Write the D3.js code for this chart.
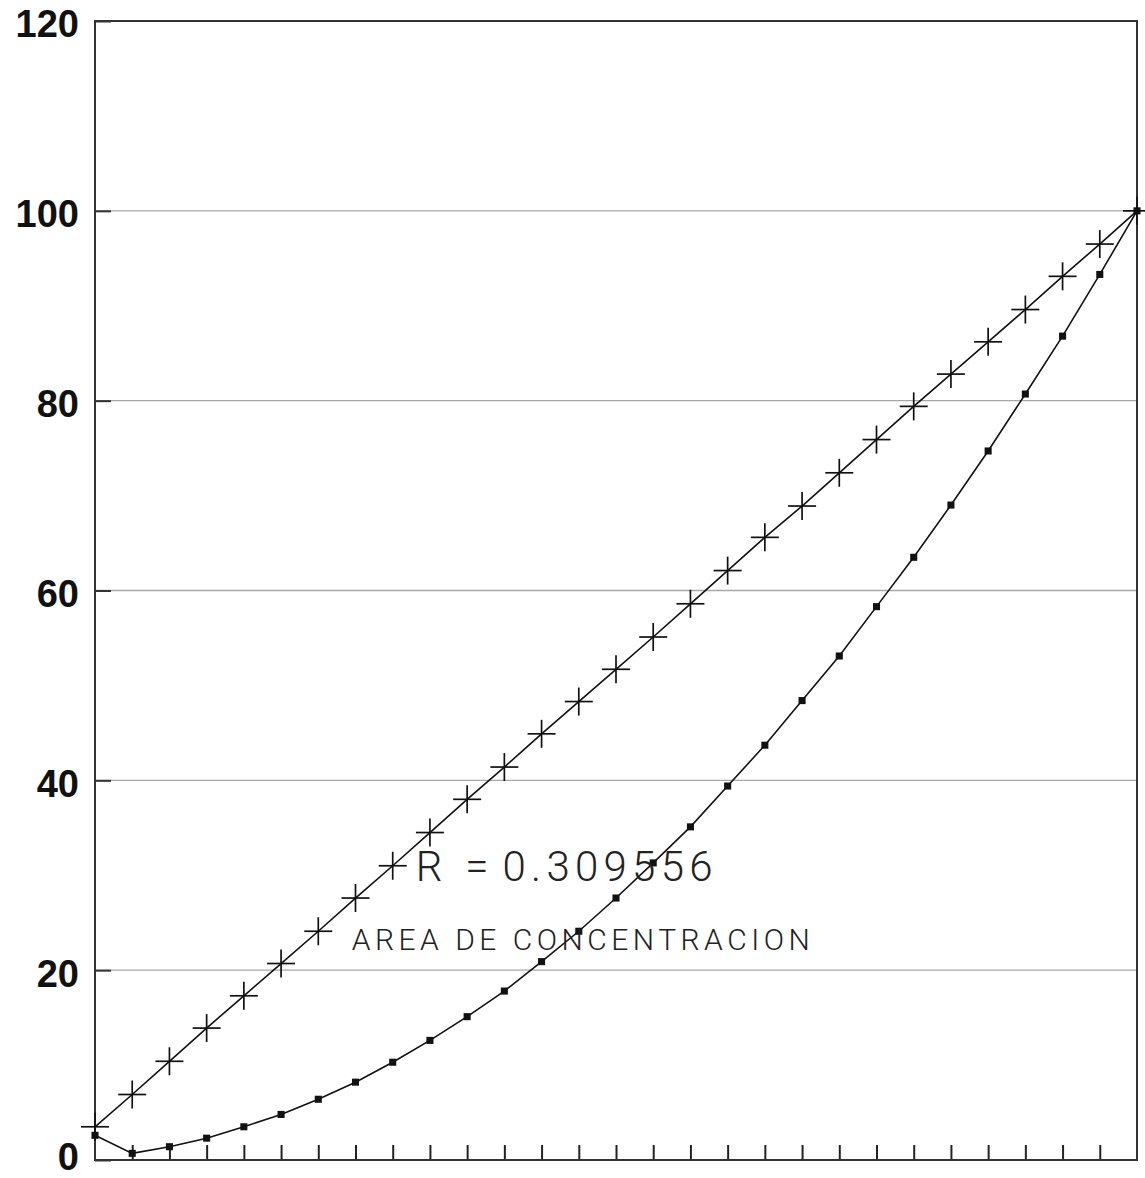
<!DOCTYPE html>
<html>
<head>
<meta charset="utf-8">
<script src="https://cdn.jsdelivr.net/npm/d3@7"></script>
<style>
  html, body { margin: 0; padding: 0; background: #fff; }
  svg { display: block; }
</style>
</head>
<body>
<svg id="chart" width="1145" height="1178"></svg>
<script>
// ---- data ----
const xIndex = d3.range(0, 29);              // 29 observation points (0..28)
const crossValues = [3.5, 6.9, 10.4, 13.9, 17.3, 20.7, 24.1, 27.6, 31.0, 34.5, 38.0, 41.4, 44.9, 48.3, 51.7, 55.1, 58.6, 62.1, 65.6, 68.9, 72.4, 75.9, 79.4, 82.8, 86.2, 89.6, 93.1, 96.5, 100];
const squareValues = [2.6, 0.7, 1.4, 2.3, 3.5, 4.8, 6.4, 8.2, 10.3, 12.6, 15.1, 17.8, 20.9, 24.1, 27.6, 31.3, 35.1, 39.4, 43.7, 48.4, 53.1, 58.3, 63.5, 69.0, 74.7, 80.7, 86.8, 93.3, 100];
const yTickValues = [0, 20, 40, 60, 80, 100, 120];
const annotationRParts = ["R ", "= ", "0.309556"];
const annotationArea = "AREA DE CONCENTRACION";

// ---- layout ----
const svg = d3.select("#chart");
const mLeft = 95, mRight = 1137, mTop = 21, mBottom = 1160;
const x = d3.scaleLinear().domain([0, 28]).range([mLeft, mRight]);
const y = d3.scaleLinear().domain([0, 120]).range([mBottom, mTop]);

// gridlines
svg.append("g")
  .selectAll("line")
  .data(yTickValues.filter(v => v > 0 && v < 120))
  .join("line")
  .attr("x1", mLeft).attr("x2", mRight)
  .attr("y1", d => y(d)).attr("y2", d => y(d))
  .attr("stroke", "#a8a8a8").attr("stroke-width", 1.3);

// y axis (inner ticks + labels)
const yAxis = d3.axisLeft(y).tickValues(yTickValues).tickSize(-16).tickPadding(0).tickFormat(d3.format("d"));
const gy = svg.append("g").attr("transform", `translate(${mLeft},0)`).call(yAxis);
gy.select(".domain").remove();
gy.selectAll(".tick line").attr("stroke", "#333").attr("stroke-width", 2);
gy.selectAll(".tick text")
  .attr("x", -16)
  .attr("dy", d => d === 0 ? "0.26em" : "0.42em")
  .attr("fill", "#111")
  .style("font-family", "'Liberation Sans', Arial, sans-serif")
  .style("font-weight", "bold")
  .style("font-size", "38px");

// x axis ticks (inward)
const xAxis = d3.axisBottom(x).tickValues(d3.range(1, 28)).tickSize(-15).tickFormat("");
const gx = svg.append("g").attr("transform", `translate(0,${mBottom})`).call(xAxis);
gx.select(".domain").remove();
gx.selectAll(".tick line").attr("stroke", "#222").attr("stroke-width", 2);

// frame
svg.append("rect")
  .attr("x", mLeft).attr("y", mTop)
  .attr("width", mRight - mLeft).attr("height", mBottom - mTop)
  .attr("fill", "none").attr("stroke", "#333").attr("stroke-width", 2);

// lines
const crossData = xIndex.map((i, k) => ({ i, v: crossValues[k] }));
const squareData = xIndex.map((i, k) => ({ i, v: squareValues[k] }));
const line = d3.line().x(d => x(d.i)).y(d => y(d.v));

svg.append("path").datum(crossData).attr("d", line)
  .attr("fill", "none").attr("stroke", "#111").attr("stroke-width", 1.6);
svg.append("path").datum(squareData).attr("d", line)
  .attr("fill", "none").attr("stroke", "#111").attr("stroke-width", 1.6);

// cross markers
const armHalf = 14;
svg.append("g").selectAll("g").data(crossData).join("g")
  .attr("transform", d => `translate(${x(d.i)},${y(d.v)})`)
  .each(function () {
    const g = d3.select(this);
    g.append("line").attr("x1", -armHalf).attr("x2", armHalf).attr("y1", 0).attr("y2", 0)
      .attr("stroke", "#111").attr("stroke-width", 1.7);
    g.append("line").attr("x1", 0).attr("x2", 0).attr("y1", -armHalf).attr("y2", armHalf)
      .attr("stroke", "#111").attr("stroke-width", 1.7);
  });

// square markers
svg.append("g").selectAll("path").data(squareData).join("path")
  .attr("transform", d => `translate(${x(d.i)},${y(d.v)})`)
  .attr("d", d3.symbol().type(d3.symbolSquare).size(50))
  .attr("fill", "#111");

// annotations
const rText = svg.append("text")
  .attr("y", y(29.4))
  .attr("fill", "#222")
  .style("font-family", "Roboto, 'Liberation Sans', Arial, sans-serif")
  .style("font-weight", 300)
  .style("font-size", "42px");
rText.append("tspan").attr("x", x(8.62)).text(annotationRParts[0]);
rText.append("tspan").attr("x", x(9.95)).text(annotationRParts[1]);
rText.append("tspan").attr("x", x(10.95))
  .attr("textLength", 210).attr("lengthAdjust", "spacing")
  .text(annotationRParts[2]);

svg.append("text")
  .attr("x", x(6.9)).attr("y", y(22.1))
  .attr("textLength", 458).attr("lengthAdjust", "spacing")
  .attr("fill", "#222")
  .style("font-family", "Roboto, 'Liberation Sans', Arial, sans-serif")
  .style("font-weight", 300)
  .style("font-size", "30px")
  .text(annotationArea);
</script>
</body>
</html>
